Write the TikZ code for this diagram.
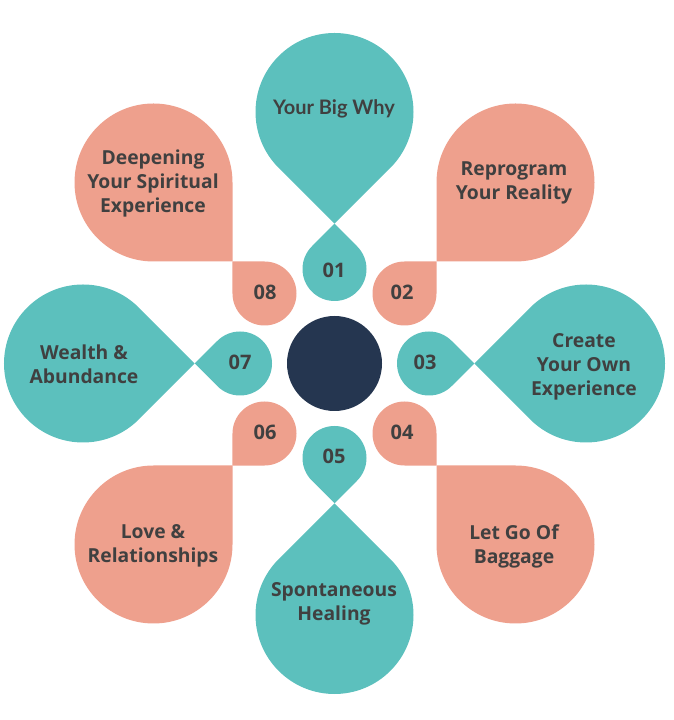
\documentclass[tikz,border=0pt]{standalone}
\usepackage{fontspec}
\setmainfont{Open Sans}
\newfontfamily\latofont{Lato}
\usetikzlibrary{calc}
\definecolor{tealc}{HTML}{5CC0BD}
\definecolor{salmonc}{HTML}{EEA08D}
\definecolor{navyc}{HTML}{253650}
\definecolor{textc}{HTML}{404040}
\newcommand\dropshape[4]{%
  \fill[#1] ($(#2,0)+(#4:#3*1.41421)$) -- ($(#2,0)+(#4+45:#3)$)
    arc[start angle=#4+45, delta angle=270, radius=#3pt] -- cycle;}
\tikzset{
  lbl/.style={text=textc, font=\bfseries\fontsize{19.3}{24}\selectfont, align=center, inner sep=0pt},
  num/.style={text=textc, font=\bfseries\fontsize{20}{24}\selectfont, inner sep=0pt},
}
\begin{document}
\begin{tikzpicture}[x=1pt,y=1pt]
\useasboundingbox (0,0) rectangle (673,720);
\coordinate (O) at (334.5,356.5);
\foreach \a in {0,90,180,270}{
  \begin{scope}[shift={(O)},rotate=\a]
    \dropshape{tealc}{251.5}{79}{180}
    \dropshape{tealc}{94.5}{32}{0}
  \end{scope}}
\foreach \a in {45,135,225,315}{
  \begin{scope}[shift={(O)},rotate=\a]
    \dropshape{salmonc}{255.97}{79}{180}
    \dropshape{salmonc}{99}{32}{0}
  \end{scope}}
\node[circle, fill=navyc, minimum size=95pt, inner sep=0pt] (hub) at (O) {};
% labels
\node[lbl, font=\latofont\bfseries\fontsize{20}{24}\selectfont] (why) at (334,611) {Your Big Why};
\node[lbl] (repro) at (514,537) {Reprogram\\Your Reality};
\node[lbl] (deep) at (153,537) {Deepening\\Your Spiritual\\Experience};
\node[lbl] (wealth) at (84,356) {Wealth \&\\Abundance};
\node[lbl] (create) at (584,353) {Create\\Your Own\\Experience};
\node[lbl] (letgo) at (514,174) {Let Go Of\\Baggage};
\node[lbl] (spont) at (334,116) {Spontaneous\\Healing};
\node[lbl] (love) at (153,174) {Love \&\\Relationships};
% numbers
\node[num] (n1) at (334,450) {01};
\node[num] (n2) at (402,428) {02};
\node[num] (n3) at (425,358) {03};
\node[num] (n4) at (402,288) {04};
\node[num] (n5) at (334,264) {05};
\node[num] (n6) at (265,288) {06};
\node[num] (n7) at (240,358) {07};
\node[num] (n8) at (265,428) {08};
\end{tikzpicture}
\end{document}
